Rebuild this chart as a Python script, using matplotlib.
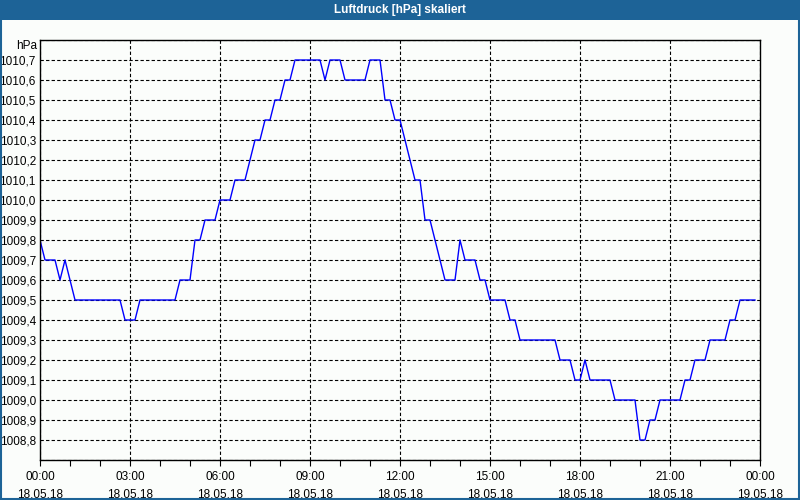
#!/usr/bin/env python3
# -*- coding: utf-8 -*-

import matplotlib
matplotlib.use("Agg")
import matplotlib.pyplot as plt
import matplotlib.dates as mdates
from matplotlib.ticker import FuncFormatter, MultipleLocator
from matplotlib.patches import Rectangle
import pandas as pd

# Messwerte alle 10 Minuten, 18.05.18 00:00 bis 23:50
start = "2018-05-18 00:00"
ende = "2018-05-19 00:00"
luftdruck = [
    1009.8, 1009.7, 1009.7, 1009.7, 1009.6, 1009.7, 1009.6, 1009.5, 1009.5, 1009.5, 1009.5, 1009.5,
    1009.5, 1009.5, 1009.5, 1009.5, 1009.5, 1009.4, 1009.4, 1009.4, 1009.5, 1009.5, 1009.5, 1009.5,
    1009.5, 1009.5, 1009.5, 1009.5, 1009.6, 1009.6, 1009.6, 1009.8, 1009.8, 1009.9, 1009.9, 1009.9,
    1010.0, 1010.0, 1010.0, 1010.1, 1010.1, 1010.1, 1010.2, 1010.3, 1010.3, 1010.4, 1010.4, 1010.5,
    1010.5, 1010.6, 1010.6, 1010.7, 1010.7, 1010.7, 1010.7, 1010.7, 1010.7, 1010.6, 1010.7, 1010.7,
    1010.7, 1010.6, 1010.6, 1010.6, 1010.6, 1010.6, 1010.7, 1010.7, 1010.7, 1010.5, 1010.5, 1010.4,
    1010.4, 1010.3, 1010.2, 1010.1, 1010.1, 1009.9, 1009.9, 1009.8, 1009.7, 1009.6, 1009.6, 1009.6,
    1009.8, 1009.7, 1009.7, 1009.7, 1009.6, 1009.6, 1009.5, 1009.5, 1009.5, 1009.5, 1009.4, 1009.4,
    1009.3, 1009.3, 1009.3, 1009.3, 1009.3, 1009.3, 1009.3, 1009.3, 1009.2, 1009.2, 1009.2, 1009.1,
    1009.1, 1009.2, 1009.1, 1009.1, 1009.1, 1009.1, 1009.1, 1009.0, 1009.0, 1009.0, 1009.0, 1009.0,
    1008.8, 1008.8, 1008.9, 1008.9, 1009.0, 1009.0, 1009.0, 1009.0, 1009.0, 1009.1, 1009.1, 1009.2,
    1009.2, 1009.2, 1009.3, 1009.3, 1009.3, 1009.3, 1009.4, 1009.4, 1009.5, 1009.5, 1009.5, 1009.5,
]
zeit = pd.date_range(start, periods=len(luftdruck), freq="10min")
y_min, y_max = 1008.7, 1010.8
titel = "Luftdruck [hPa] skaliert"
einheit = "hPa"

plt.rcParams["font.family"] = ["Liberation Sans", "DejaVu Sans"]
blau = "#1d6397"

fig = plt.figure(figsize=(8, 5), dpi=100, facecolor="#fbfdfb")

# Titelleiste und Rahmen
fig.patches.append(Rectangle((0, 0.96), 1, 0.04, transform=fig.transFigure,
                             facecolor=blau, edgecolor="none", zorder=0))
fig.patches.append(Rectangle((0.001, 0.002), 0.998, 0.997, transform=fig.transFigure,
                             facecolor="none", edgecolor=blau, linewidth=1.5, zorder=0))
fig.text(0.5, 0.98, titel, color="white", fontsize=8.5, fontweight="bold",
         ha="center", va="center")

ax = fig.add_axes([0.05, 0.08, 0.9, 0.84])
ax.set_facecolor("#fbfdfb")
ax.plot(zeit, luftdruck, color="#0000ff", linewidth=1)

ax.set_xlim(pd.Timestamp(start), pd.Timestamp(ende))
ax.set_ylim(y_min, y_max)

ax.xaxis.set_major_locator(mdates.HourLocator(byhour=range(0, 24, 3)))
ax.xaxis.set_minor_locator(mdates.HourLocator())
ax.xaxis.set_major_formatter(mdates.DateFormatter("%H:%M\n%d.%m.%y"))
ax.yaxis.set_major_locator(MultipleLocator(0.1))
ax.yaxis.set_major_formatter(FuncFormatter(lambda v, p: ("%.1f" % v).replace(".", ",")
                                           if 1008.75 < v < 1010.75 else ""))

ax.grid(True, color="black", linestyle=(0, (3, 2)), linewidth=0.8)
ax.tick_params(axis="x", which="both", direction="out", length=4, width=0.8,
               labelsize=8.5, pad=4)
ax.tick_params(axis="y", length=0, labelsize=8.5, pad=3)
for lbl in ax.get_xticklabels():
    lbl.set_linespacing(1.7)
for sp in ax.spines.values():
    sp.set_linewidth(1)

ax.text(-0.004, 1.0 - 0.014, einheit, transform=ax.transAxes, ha="right", va="center", fontsize=8.5)

fig.savefig("out.png", dpi=100, facecolor=fig.get_facecolor())
